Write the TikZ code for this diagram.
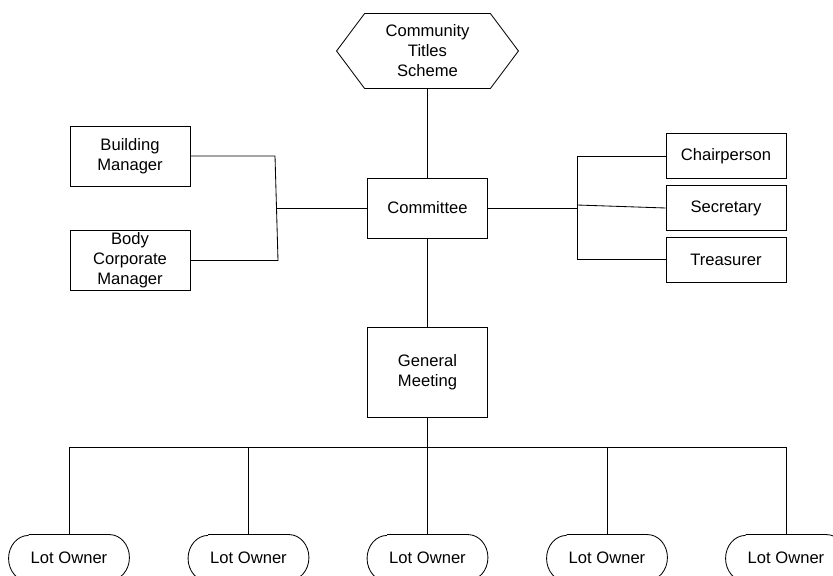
\documentclass[tikz,border=0pt]{standalone}
\usepackage{fontspec}
\setmainfont{Liberation Sans}

\begin{document}
\begin{tikzpicture}[x=0.025cm,y=-0.025cm,line width=0.6pt,
  every node/.style={font=\fontsize{11.8}{14.2}\selectfont,align=center,inner sep=0pt},
  box/.style={draw,minimum width=3cm,minimum height=1.5cm},
  smallbox/.style={draw,minimum width=3cm,minimum height=1.125cm},
  lot/.style={minimum width=3cm,minimum height=1.15cm}]

\useasboundingbox (0,0) rectangle (833,576);

% top of the scheme
\node[minimum width=3.125cm,minimum height=1.85cm] (cts) at (427.5,51) {Community\\Titles\\Scheme};
\draw (cts.north west) -- (cts.north east) -- ([xshift=0.7cm]cts.east) -- (cts.south east)
  -- (cts.south west) -- ([xshift=-0.7cm]cts.west) -- cycle;

\node[box] (com) at (427.5,208) {Committee};
\node[box] (bm) at (130,156) {Building\\Manager};
\node[box] (bcm) at (130,260.5) {Body\\Corporate\\Manager};

\node[smallbox] (chair) at (726,156) {Chairperson};
\node[smallbox] (sec) at (726,208) {Secretary};
\node[smallbox] (treas) at (726,259.5) {Treasurer};

\node[box,minimum height=2.25cm] (gm) at (427.5,372) {General\\Meeting};

% lot owners, ends drawn as half ellipses
\foreach \x/\n in {69/1,248.5/2,427.5/3,607/4,786/5}{
  \node[lot] (lot\n) at (\x,558) {Lot Owner};
  \draw ([xshift=0.5cm]lot\n.north west) -- ([xshift=-0.5cm]lot\n.north east)
    arc[start angle=90,end angle=-90,x radius=0.5cm,y radius=0.575cm]
    -- ([xshift=0.5cm]lot\n.south west)
    arc[start angle=270,end angle=90,x radius=0.5cm,y radius=0.575cm];
}

% connectors
\draw (cts.south) -- (com.north);
\draw (com.south) -- (gm.north);

\coordinate (lt) at (275,156);
\coordinate (lb) at (278,260.5);
\coordinate (jl) at (276.5,208);
\draw (bm.east) -- (lt) -- (lb) -- (bcm.east);
\draw (com.west) -- (jl);

\coordinate (rt) at (577,156);
\coordinate (rb) at (577,259.5);
\coordinate (jr) at (577,205);
\draw (chair.west) -- (rt) -- (rb) -- (treas.west);
\draw (com.east) -- (577,208);
\draw (jr) -- (sec.west);

\coordinate (bus) at (427.5,447);
\draw (gm.south) -- (bus);
\draw (lot1.north |- bus) -- (lot5.north |- bus);
\foreach \n in {1,...,5}
  \draw (lot\n.north |- bus) -- (lot\n.north);

\end{tikzpicture}
\end{document}
